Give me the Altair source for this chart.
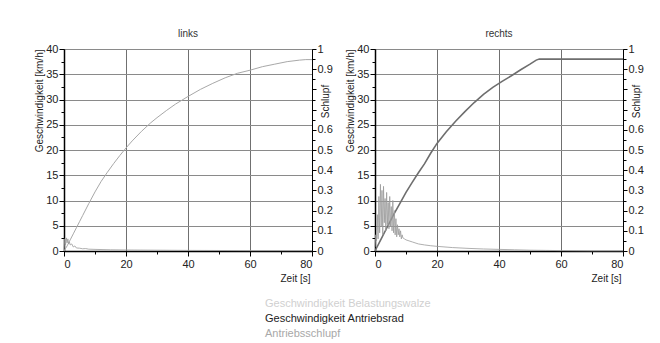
import altair as alt
import pandas as pd

# ---------------- data ----------------
# left panel ("links")
left_vel_t = [0, 1, 2, 3, 4, 5, 6, 8, 10, 12, 14, 16, 18, 20, 22, 25, 28, 30, 33, 36,
              40, 44, 48, 52, 56, 60, 64, 68, 72, 76, 78, 80]
left_vel_v = [0, 1.0, 2.2, 3.4, 4.6, 5.8, 7.0, 9.4, 11.7, 13.8, 15.6, 17.3, 18.9, 20.4, 21.8,
              23.7, 25.4, 26.4, 27.8, 29.1, 30.6, 32.0, 33.2, 34.3, 35.2, 35.8, 36.5, 37.0,
              37.5, 37.8, 37.9, 37.9]
left_slip_t = [0, 0.25, 0.5, 0.75, 1.0, 1.25, 1.5, 1.75, 2.0, 2.5, 3.0, 3.5, 4.0, 5.0, 6.0,
               7.0, 8.0, 10, 15, 20, 30, 40, 60, 80]
left_slip_s = [0.0, 0.06, 0.03, 0.065, 0.04, 0.06, 0.035, 0.045, 0.03, 0.035, 0.02, 0.025,
               0.015, 0.014, 0.011, 0.012, 0.009, 0.008, 0.006, 0.005, 0.004, 0.003, 0.002, 0.002]

# right panel ("rechts")
right_vel_t = [0, 2, 4, 6, 8, 10, 12, 14, 16, 18, 20, 23, 26, 29, 32, 35, 38, 41, 44, 47,
               50, 52, 53, 55, 60, 70, 80]
right_vel_v = [0, 2.4, 4.8, 7.2, 9.4, 11.6, 13.6, 15.5, 17.3, 19.4, 21.3, 23.6, 25.7, 27.6,
               29.4, 31.0, 32.4, 33.6, 34.7, 35.9, 37.0, 37.8, 38, 38, 38, 38, 38]
right_slip_t = [0, 0.25, 0.5, 0.75, 1.0, 1.25, 1.5, 1.75, 2.0, 2.25, 2.5, 2.75, 3.0, 3.25,
                3.5, 3.75, 4.0, 4.25, 4.5, 4.75, 5.0, 5.25, 5.5, 5.75, 6.0, 6.25, 6.5, 6.75,
                7.0, 7.25, 7.5, 7.75, 8.0, 8.25, 8.5, 8.75, 9.0, 9.5, 10, 11, 12, 14, 16, 18,
                20, 25, 30, 35, 40, 45, 50, 55, 60, 70, 80]
right_slip_s = [0.02, 0.08, 0.05, 0.18, 0.06, 0.27, 0.09, 0.33, 0.12, 0.30, 0.08, 0.32, 0.14,
                0.26, 0.10, 0.29, 0.13, 0.24, 0.11, 0.27, 0.12, 0.22, 0.10, 0.25, 0.09, 0.20,
                0.08, 0.16, 0.07, 0.13, 0.08, 0.11, 0.07, 0.10, 0.06, 0.08, 0.065, 0.06, 0.055,
                0.05, 0.045, 0.035, 0.03, 0.026, 0.023, 0.017, 0.013, 0.01, 0.008, 0.006, 0.004,
                0.003, 0.002, 0.001, 0.001]

panel_titles = ["links", "rechts"]
x_ticks = [0, 10, 20, 30, 40, 50, 60, 70, 80]
v_ticks = [0, 2.5, 5, 7.5, 10, 12.5, 15, 17.5, 20, 22.5, 25, 27.5, 30, 32.5, 35, 37.5, 40]
s_ticks = [0, 0.05, 0.1, 0.15, 0.2, 0.25, 0.3, 0.35, 0.4, 0.45, 0.5, 0.55, 0.6, 0.65, 0.7,
           0.75, 0.8, 0.85, 0.9, 0.95, 1]
legend_names = ["Geschwindigkeit Belastungswalze", "Geschwindigkeit Antriebsrad", "Antriebsschlupf"]
legend_colors = ["#d0d0d0", "#222222", "#a8a8a8"]

FONT = "Liberation Sans"
W, H = 248, 202

x_axis = alt.Axis(
    values=x_ticks,
    labelExpr="datum.value % 20 === 0 ? datum.label : ''",
    tickSize={"condition": {"test": "datum.value % 20 === 0", "value": 5}, "value": 3},
    gridOpacity={"condition": {"test": "datum.value % 20 === 0", "value": 1}, "value": 0},
    gridColor="#707070",
    domainWidth=1.5,
    title="Zeit [s]",
    titleAlign="right",
    titleAnchor="end",
    titleBaseline="middle",
    titleX=W - 2,
    titleY=27,
    labelPadding=2,
    labelFontSize=11,
)

v_axis = alt.Axis(
    values=v_ticks,
    labelExpr="datum.value % 5 === 0 ? datum.label : ''",
    tickSize={"condition": {"test": "datum.value % 5 === 0", "value": 5}, "value": 3},
    gridOpacity={"condition": {"test": "datum.value % 5 === 0", "value": 1}, "value": 0},
    gridColor="#8a8a8a",
    domainWidth=1.5,
    title="Geschwindigkeit [km/h]",
    titleAnchor="end",
    titlePadding=1,
    labelPadding=1,
    labelFontSize=11,
)

s_axis = alt.Axis(
    values=s_ticks,
    orient="right",
    format="~g",
    grid=False,
    labelExpr="(round(datum.value*100) % 10 === 0 && round(datum.value*10) !== 7 && round(datum.value*10) !== 8) ? datum.label : ''",
    tickSize={"condition": {"test": "round(datum.value*100) % 10 === 0", "value": 4}, "value": 3},
    title="Schlupf",
    titleAngle=270,
    titleAlign="center",
    titleBaseline="middle",
    titleX=13,
    titleY=52,
    labelPadding=1,
    labelFontSize=11,
)


def panel(title, vt, vv, st, ss, vel_color, vel_width):
    dv = pd.DataFrame({"t": vt, "v": vv})
    ds = pd.DataFrame({"t": st, "s": ss})
    xs = alt.Scale(domain=[0, 80], nice=False)
    vel = alt.Chart(dv).mark_line(color=vel_color, strokeWidth=vel_width).encode(
        x=alt.X("t:Q", scale=xs, axis=x_axis),
        y=alt.Y("v:Q", scale=alt.Scale(domain=[0, 40], nice=False), axis=v_axis),
    )
    slip = alt.Chart(ds).mark_line(color="#9a9a9a", strokeWidth=0.8).encode(
        x=alt.X("t:Q", scale=xs, axis=x_axis),
        y=alt.Y("s:Q", scale=alt.Scale(domain=[0, 1], nice=False), axis=s_axis),
    )
    return alt.layer(vel, slip).resolve_scale(y="independent").properties(
        width=W, height=H,
        title=alt.TitleParams(title, fontSize=10, font=FONT, fontWeight="normal",
                              color="#333333", offset=4),
    )


left = panel(panel_titles[0], left_vel_t, left_vel_v, left_slip_t, left_slip_s, "#a8a8a8", 1)
right = panel(panel_titles[1], right_vel_t, right_vel_v, right_slip_t, right_slip_s, "#6e6e6e", 1.6)

top = alt.hconcat(left, right, spacing=12)

leg_df = pd.DataFrame({"name": legend_names, "order": [0, 1, 2]})
legend = alt.Chart(leg_df).mark_text(align="left", baseline="middle", fontSize=11, font=FONT).encode(
    x=alt.value(201),
    y=alt.Y("order:O", axis=None),
    text="name:N",
    color=alt.Color("name:N", scale=alt.Scale(domain=legend_names, range=legend_colors), legend=None),
).properties(width=420, height=44, view=alt.ViewBackground(stroke="transparent"))

chart = alt.vconcat(top, legend, spacing=12).properties(
    padding={"left": 34, "top": 28, "right": 5, "bottom": 5},
    background="white",
).configure_axis(
    labelFont=FONT, titleFont=FONT, titleFontSize=10, titleFontWeight="normal",
    labelColor="#222222", titleColor="#222222", domainColor="black", tickColor="black",
).configure_view(stroke="black", strokeWidth=1)

chart.save("out.html", embed_options={"renderer": "svg", "actions": False})
